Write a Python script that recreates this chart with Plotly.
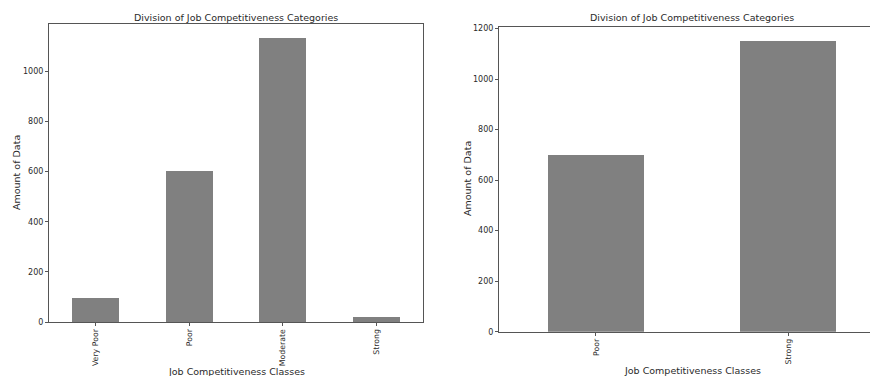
import plotly.graph_objects as go

# Data
left_categories = ["Very Poor", "Poor", "Moderate", "Strong"]
left_counts = [95, 602, 1132, 21]
right_categories = ["Poor", "Strong"]
right_counts = [698, 1150]
y_ticks_left = [0, 200, 400, 600, 800, 1000]
y_ticks_right = [0, 200, 400, 600, 800, 1000, 1200]
chart_title = "Division of Job Competitiveness Categories"
x_title = "Job Competitiveness Classes"
y_title = "Amount of Data"

W, H = 870, 376
BAR = "#808080"
SPINE = "#555555"
TXT = "#2a2a2a"
FONT = "DejaVu Sans"

fig = go.Figure()
fig.add_trace(go.Bar(x=left_categories, y=left_counts, width=0.5,
                     marker=dict(color=BAR, line=dict(width=0)),
                     xaxis="x", yaxis="y", showlegend=False))
fig.add_trace(go.Bar(x=right_categories, y=right_counts, width=0.5,
                     marker=dict(color=BAR, line=dict(width=0)),
                     xaxis="x2", yaxis="y2", showlegend=False))

def px(x):
    return x / W

def py(y):
    return 1 - y / H

common_x = dict(type="category", showgrid=False, zeroline=False, showline=True,
                linecolor=SPINE, linewidth=1, ticks="outside", ticklen=3,
                tickcolor=SPINE, tickangle=-90, automargin=False,
                tickfont=dict(family=FONT, size=7.8, color=TXT), fixedrange=True)
common_y = dict(showgrid=False, zeroline=False, showline=True, linecolor=SPINE,
                linewidth=1, ticks="outside", ticklen=3, tickcolor=SPINE,
                automargin=False,
                tickfont=dict(family=FONT, size=8, color=TXT), fixedrange=True)

fig.update_layout(
    width=W, height=H,
    margin=dict(l=0, r=0, t=0, b=0),
    paper_bgcolor="white", plot_bgcolor="white",
    bargap=0,
    xaxis=dict(common_x, domain=[px(49), px(423)], range=[-0.5, 3.5],
               anchor="y", mirror=True),
    yaxis=dict(common_y, domain=[py(322), py(24)], range=[0, max(left_counts) * 1.05],
               tickvals=y_ticks_left, anchor="x", mirror=True),
    xaxis2=dict(common_x, domain=[px(499), 1.0], range=[-0.505, 1.427],
                anchor="y2", mirror=True),
    yaxis2=dict(common_y, domain=[py(331.7), py(26.7)],
                range=[0, max(right_counts) * 1.05],
                tickvals=y_ticks_right, anchor="x2", mirror=False),
    annotations=[
        dict(text=chart_title, x=px(236), y=py(17), xref="paper", yref="paper",
             showarrow=False, xanchor="center", yanchor="middle",
             font=dict(family=FONT, size=9.5, color=TXT)),
        dict(text=chart_title, x=px(692), y=py(18), xref="paper", yref="paper",
             showarrow=False, xanchor="center", yanchor="middle",
             font=dict(family=FONT, size=9.5, color=TXT)),
        dict(text=x_title, x=px(236), y=py(371), xref="paper", yref="paper",
             showarrow=False, xanchor="center", yanchor="middle",
             font=dict(family=FONT, size=9.5, color=TXT)),
        dict(text=x_title, x=px(692), y=py(370), xref="paper", yref="paper",
             showarrow=False, xanchor="center", yanchor="middle",
             font=dict(family=FONT, size=9.5, color=TXT)),
        dict(text=y_title, x=px(16), y=py(173), xref="paper", yref="paper",
             showarrow=False, xanchor="center", yanchor="middle", textangle=-90,
             font=dict(family=FONT, size=9.5, color=TXT)),
        dict(text=y_title, x=px(467), y=py(179), xref="paper", yref="paper",
             showarrow=False, xanchor="center", yanchor="middle", textangle=-90,
             font=dict(family=FONT, size=9.5, color=TXT)),
    ],
)

fig.write_html("out.html",
               config={"displayModeBar": False, "staticPlot": True},
               post_script="document.body.style.margin='0';"
                           "document.body.style.overflow='hidden';")
